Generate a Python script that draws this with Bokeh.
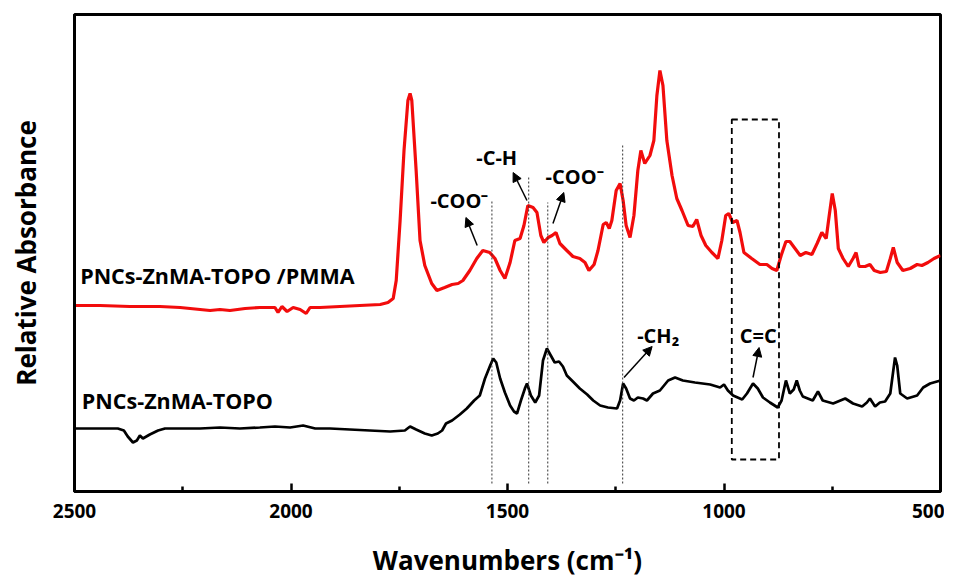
from bokeh.plotting import figure
from bokeh.models import Range1d, Arrow, NormalHead, ColumnDataSource, FixedTicker
from bokeh.core.properties import value
from bokeh.embed import file_html
from bokeh.resources import INLINE

# ---- data (wavenumber cm-1, relative absorbance a.u.) ----
pmma_wn = [2500, 2441, 2372, 2303, 2256, 2210, 2187, 2164, 2141, 2106, 2072, 2037, 2030, 2021,
           2009, 1995, 1979, 1965, 1956, 1933, 1887, 1841, 1794, 1776, 1764, 1757, 1748, 1739,
           1730, 1725, 1721, 1711, 1702, 1691, 1675, 1663, 1645, 1628, 1614, 1603, 1587, 1571,
           1557, 1541, 1529, 1517, 1506, 1494, 1483, 1471, 1462, 1453, 1441, 1432, 1423, 1416,
           1406, 1397, 1388, 1379, 1363, 1349, 1333, 1321, 1312, 1300, 1291, 1279, 1272, 1265,
           1259, 1249, 1240, 1233, 1226, 1217, 1208, 1199, 1192, 1183, 1171, 1162, 1155, 1148,
           1141, 1132, 1120, 1109, 1097, 1083, 1072, 1063, 1053, 1042, 1028, 1014, 1005, 996,
           989, 980, 970, 963, 954, 936, 917, 901, 889, 878, 868, 857, 848, 836, 824, 811, 797,
           785, 774, 764, 757, 750, 743, 736, 725, 713, 702, 695, 688, 674, 663, 653, 639, 625,
           616, 609, 600, 587, 570, 554, 543, 529, 515, 500]
pmma_abs = [1.86, 1.86, 1.85, 1.85, 1.84, 1.82, 1.81, 1.82, 1.81, 1.83, 1.84, 1.84, 1.79, 1.85,
            1.80, 1.84, 1.82, 1.78, 1.84, 1.84, 1.85, 1.86, 1.87, 1.89, 1.93, 2.11, 2.71, 3.41,
            3.91, 3.98, 3.91, 3.21, 2.51, 2.26, 2.08, 2.01, 2.04, 2.07, 2.08, 2.11, 2.21, 2.33,
            2.41, 2.39, 2.33, 2.21, 2.13, 2.29, 2.51, 2.53, 2.66, 2.86, 2.84, 2.79, 2.56, 2.49,
            2.54, 2.56, 2.59, 2.48, 2.41, 2.35, 2.33, 2.29, 2.21, 2.27, 2.41, 2.67, 2.69, 2.63,
            2.71, 3.01, 3.08, 2.91, 2.66, 2.54, 2.76, 3.21, 3.41, 3.28, 3.36, 3.51, 3.96, 4.21,
            4.06, 3.51, 3.16, 2.93, 2.81, 2.66, 2.65, 2.72, 2.56, 2.46, 2.39, 2.33, 2.51, 2.76,
            2.78, 2.69, 2.71, 2.59, 2.39, 2.33, 2.27, 2.27, 2.23, 2.21, 2.36, 2.50, 2.50, 2.43,
            2.36, 2.39, 2.37, 2.48, 2.59, 2.53, 2.76, 2.98, 2.81, 2.43, 2.33, 2.25, 2.33, 2.39,
            2.25, 2.25, 2.27, 2.21, 2.19, 2.20, 2.33, 2.44, 2.29, 2.21, 2.23, 2.27, 2.26, 2.29,
            2.33, 2.36]

topo_wn = [2500, 2441, 2400, 2386, 2377, 2365, 2356, 2349, 2342, 2326, 2307, 2291, 2256, 2210,
           2164, 2118, 2072, 2037, 2002, 1972, 1944, 1910, 1864, 1818, 1771, 1737, 1725, 1711,
           1691, 1675, 1661, 1651, 1642, 1628, 1610, 1594, 1577, 1564, 1552, 1540, 1533, 1526,
           1517, 1506, 1494, 1485, 1478, 1469, 1459, 1455, 1446, 1436, 1427, 1418, 1409, 1400,
           1391, 1381, 1372, 1363, 1349, 1333, 1316, 1302, 1286, 1268, 1247, 1240, 1233, 1226,
           1217, 1208, 1199, 1187, 1178, 1164, 1148, 1129, 1113, 1095, 1067, 1032, 1009, 1000,
           991, 979, 958, 947, 933, 922, 910, 894, 876, 867, 857, 848, 839, 832, 825, 818, 795,
           783, 772, 748, 720, 702, 681, 670, 663, 651, 640, 628, 616, 609, 605, 600, 593, 577,
           554, 540, 524, 508, 500]
topo_abs = [0.63, 0.63, 0.63, 0.61, 0.55, 0.49, 0.51, 0.56, 0.53, 0.57, 0.61, 0.63, 0.63, 0.63,
            0.64, 0.63, 0.64, 0.65, 0.64, 0.66, 0.63, 0.63, 0.62, 0.61, 0.60, 0.61, 0.65, 0.62,
            0.58, 0.56, 0.58, 0.61, 0.68, 0.71, 0.77, 0.83, 0.91, 0.96, 1.13, 1.26, 1.33, 1.29,
            1.13, 0.99, 0.86, 0.80, 0.78, 0.91, 1.04, 1.08, 0.96, 0.89, 0.96, 1.31, 1.43, 1.36,
            1.29, 1.30, 1.25, 1.16, 1.10, 1.03, 0.97, 0.91, 0.86, 0.84, 0.83, 0.91, 1.08, 1.03,
            0.93, 0.91, 0.94, 0.93, 0.91, 0.98, 1.01, 1.11, 1.14, 1.11, 1.09, 1.07, 1.04, 1.07,
            1.01, 0.96, 0.92, 0.98, 1.08, 1.03, 0.94, 0.89, 0.84, 0.91, 1.11, 0.98, 1.02, 1.11,
            1.01, 0.95, 0.91, 1.00, 0.91, 0.88, 0.93, 0.88, 0.85, 0.89, 0.93, 0.85, 0.89, 0.90,
            0.98, 1.21, 1.34, 1.26, 0.98, 0.93, 0.96, 1.04, 1.08, 1.10, 1.11]

series_names = ["PNCs-ZnMA-TOPO /PMMA", "PNCs-ZnMA-TOPO"]
series_label_wn = [2487, 2483]
series_label_abs = [2.16, 0.91]

x_ticks = [2500, 2000, 1500, 1000, 500]
x_minor_ticks = [2250, 1750, 1250, 750]

marker_wn = [1536, 1451, 1407, 1234]
marker_top = [2.91, 3.16, 2.89, 3.48]
marker_bottom = [0.08, 0.08, 0.08, 0.08]

box_wn = [982, 873]
box_abs = [0.32, 3.72]

ann_text = ["-COO\u207b", "-C-H", "-COO\u207b", "-CH\u2082", "C=C"]
ann_wn = [1611, 1525, 1345, 1152, 921]
ann_abs = [2.91, 3.34, 3.155, 1.56, 1.56]

arrow_tail_wn = [1570, 1455, 1395, 1231, 933]
arrow_tail_abs = [2.46, 2.91, 2.68, 1.14, 1.14]
arrow_tip_wn = [1596, 1487, 1370, 1166, 919]
arrow_tip_abs = [2.74, 3.19, 2.99, 1.45, 1.44]

FONT = "Open Sans"

p = figure(width=944, height=581, output_backend="svg", toolbar_location=None,
           x_range=Range1d(2500, 500), y_range=Range1d(0, 4.77),
           min_border_left=74, min_border_right=4, min_border_top=14, min_border_bottom=90)
p.grid.visible = False
p.background_fill_color = "white"
p.border_fill_color = "white"
p.outline_line_color = "black"
p.outline_line_width = 3

# curves
p.line(pmma_wn, pmma_abs, line_color="#f20c0c", line_width=3.2)
p.line(topo_wn, topo_abs, line_color="black", line_width=2.7)

# dotted marker lines
p.segment(x0=marker_wn, y0=marker_bottom, x1=marker_wn, y1=marker_top,
          line_color="#333333", line_width=1, line_dash="2 2")

# dashed box
p.quad(left=[box_wn[0]], right=[box_wn[1]], bottom=[box_abs[0]], top=[box_abs[1]],
       fill_color=None, line_color="black", line_width=1.8, line_dash="6 4")

# arrows
asrc = ColumnDataSource(dict(x0=arrow_tail_wn, y0=arrow_tail_abs, x1=arrow_tip_wn, y1=arrow_tip_abs))
p.add_layout(Arrow(end=NormalHead(size=9, fill_color="black", line_color="black", line_width=1),
                   x_start="x0", y_start="y0", x_end="x1", y_end="y1", source=asrc,
                   line_color="black", line_width=1.5))

# annotation texts
p.text(x=ann_wn, y=ann_abs, text=ann_text, text_font=value(FONT), text_font_style="bold",
       text_font_size="20px", text_align="center", text_baseline="middle", text_color="black")

# series labels
p.text(x=series_label_wn, y=series_label_abs, text=series_names, text_font=value(FONT),
       text_font_style="bold", text_font_size="21.5px", text_align="left", text_baseline="middle",
       text_color="black")

# axes
xa = p.xaxis[0]
xa.ticker = FixedTicker(ticks=x_ticks, minor_ticks=x_minor_ticks)
xa.major_tick_in = 8
xa.major_tick_out = 0
xa.minor_tick_in = 5
xa.minor_tick_out = 0
xa.major_tick_line_width = 2.5
xa.minor_tick_line_width = 2.5
xa.axis_line_width = 3
xa.major_label_text_font = FONT
xa.major_label_text_font_style = "bold"
xa.major_label_text_font_size = "19px"
xa.major_label_text_color = "black"
xa.major_label_standoff = 12
xa.axis_label = "Wavenumbers (cm\u207b\u00b9)"
xa.axis_label_text_font = FONT
xa.axis_label_text_font_style = "bold"
xa.axis_label_text_font_size = "26px"
xa.axis_label_text_color = "black"
xa.axis_label_standoff = 21

ya = p.yaxis[0]
ya.ticker = FixedTicker(ticks=[])
ya.major_tick_line_color = None
ya.minor_tick_line_color = None
ya.major_label_text_font_size = "0px"
ya.axis_line_width = 3
ya.axis_label = "Relative Absorbance"
ya.axis_label_text_font = FONT
ya.axis_label_text_font_style = "bold"
ya.axis_label_text_font_size = "26px"
ya.axis_label_text_color = "black"
ya.axis_label_standoff = 31

open("out.html", "w").write(file_html(p, INLINE))
